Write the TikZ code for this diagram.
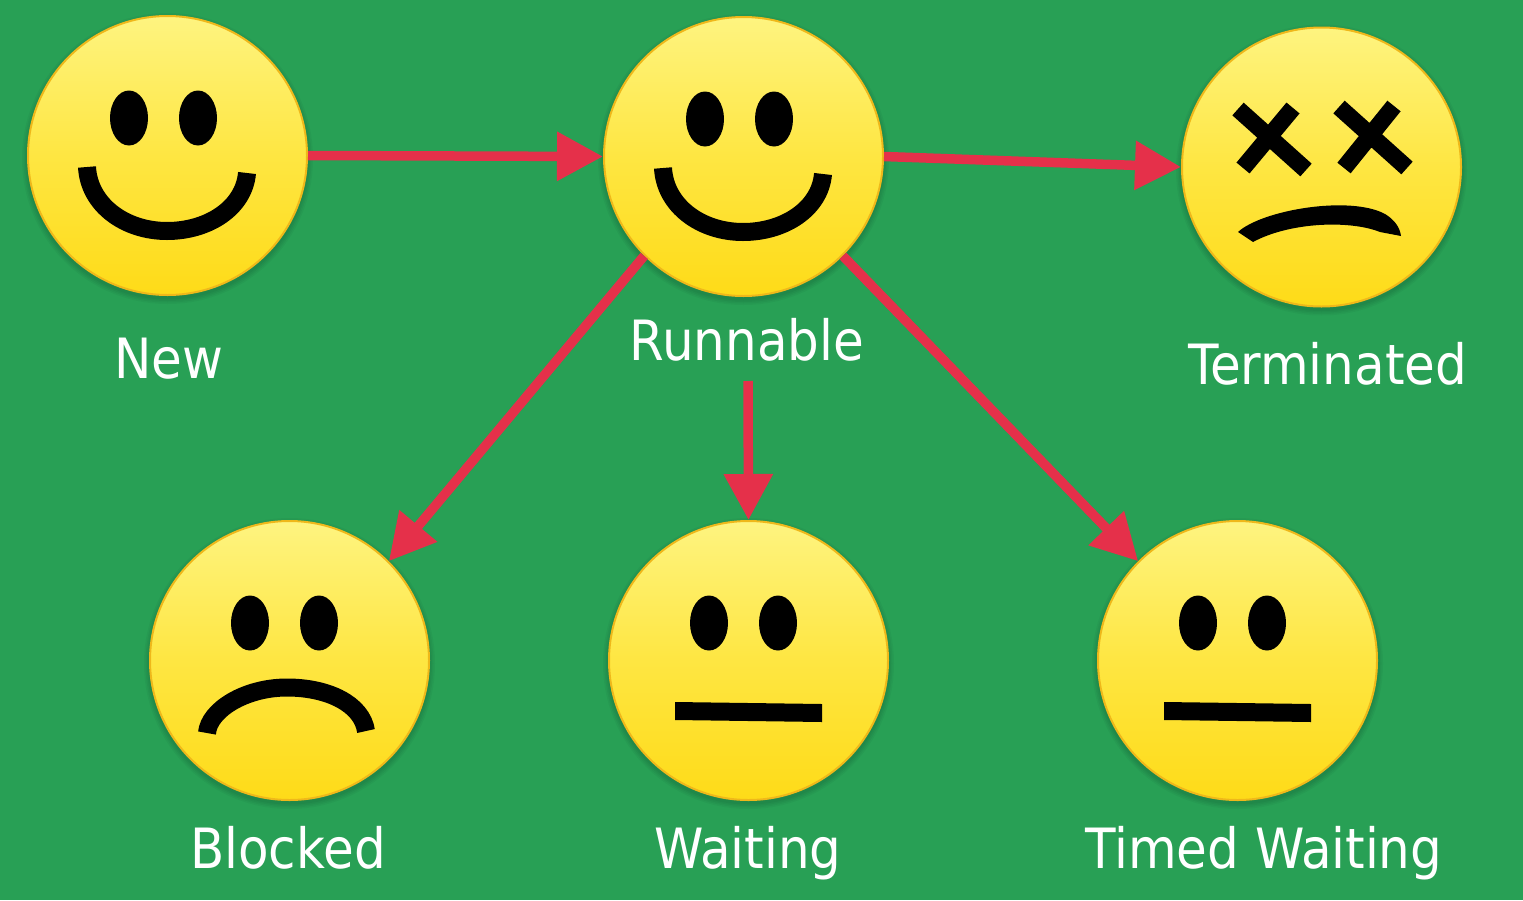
\documentclass[tikz,border=0pt]{standalone}
\usepackage{fontspec}
\setmainfont{DejaVu Sans Condensed}
\usetikzlibrary{arrows.meta}
\definecolor{bgg}{HTML}{28A055}
\definecolor{arr}{HTML}{E5304A}
\definecolor{ytop}{HTML}{FEF480}
\definecolor{ybot}{HTML}{FEDB18}
\definecolor{ymid}{HTML}{FEE642}
\definecolor{yedge}{HTML}{EFB81A}
\tikzset{x=1pt,y=-1pt,
 face/.style={circle,draw=yedge,line width=2pt,minimum size=279pt,inner sep=0pt,top color=ytop,bottom color=ybot,middle color=ymid},
 lab/.style={text=white,font=\fontsize{55.5}{58}\selectfont,inner sep=0pt,anchor=base},
 link/.style={draw=arr,line width=9.5pt,-{Triangle[length=46pt,width=47pt]}},
 eye/.style={fill=black,draw=none},
 halo/.style={fill=black,opacity=0.035,draw=none},
 mouth/.style={draw=black,line width=18pt}}
\begin{document}
\begin{tikzpicture}
\useasboundingbox (0,0) rectangle (1523,900);
\fill[bgg] (0,0) rectangle (1523,900);
\foreach \x/\y in {167.5/155.5,743.5/156.5,1321.5/167,289.5/660.5,748.5/660.5,1237.5/660.5}
 \foreach \r in {141,142.5,144,145.5}
  \fill[halo] (\x,\y+3) circle (\r pt);
\node[face] (new) at (167.5,155.5) {};
\node[face] (run) at (743.5,156.5) {};
\node[face] (term) at (1321.5,167) {};
\node[face] (blk) at (289.5,660.5) {};
\node[face] (wait) at (748.5,660.5) {};
\node[face] (tw) at (1237.5,660.5) {};
\node[lab] (lnew) at (169,378) {New};
\node[lab] (lrun) at (747,360) {Runnable};
\node[lab] (lterm) at (1328,384) {Terminated};
\node[lab] (lblk) at (288,868) {Blocked};
\node[lab] (lwait) at (748,868) {Waiting};
\node[lab] (ltw) at (1264,868) {Timed Waiting};
\coordinate (wstart) at (748,381);
\draw[link] (new.east) -- (run.west);
\draw[link] (run.east) -- (term.west);
\draw[link] (run.225) -- (blk.45);
\draw[link] (run.-45) -- (tw.135);
\draw[link] (wstart) -- (wait.north);
% eyes
\foreach \x/\y in {129/118,198/118,705/119,774/119,250/623,319/623,709/623,778/623,1198/623,1267/623}
 \fill[eye] (\x,\y) ellipse (19pt and 27.5pt);
% smiles
\draw[mouth] (87,167) .. controls (89,205) and (125,231) .. (167,231) .. controls (208,231) and (244,208) .. (247,173);
\draw[mouth] (663,168) .. controls (665,206) and (701,232) .. (743,232) .. controls (784,232) and (820,209) .. (823,174);
% frown
\draw[mouth] (207,733) .. controls (209,710) and (245,687.5) .. (287,687.5) .. controls (328,687.5) and (362,704) .. (366,731);
% flat
\fill[black] (675,702) -- (822,704) -- (822,722) -- (675,720) -- cycle;
\fill[black] (1164,702) -- (1311,704) -- (1311,722) -- (1164,720) -- cycle;
% terminated
\draw[black,line width=17pt] (1238,109) -- (1306,170) (1293,108) -- (1243,168);
\draw[black,line width=17pt] (1339,107) -- (1407,168) (1394,106) -- (1344,168);
\fill[black] (1238,232) .. controls (1262,210) and (1350,195) .. (1385,214) .. controls (1395,220) and (1400,228) .. (1401,236) -- (1380,232) .. controls (1350,220) and (1290,222) .. (1253,242) -- cycle;
\end{tikzpicture}
\end{document}
